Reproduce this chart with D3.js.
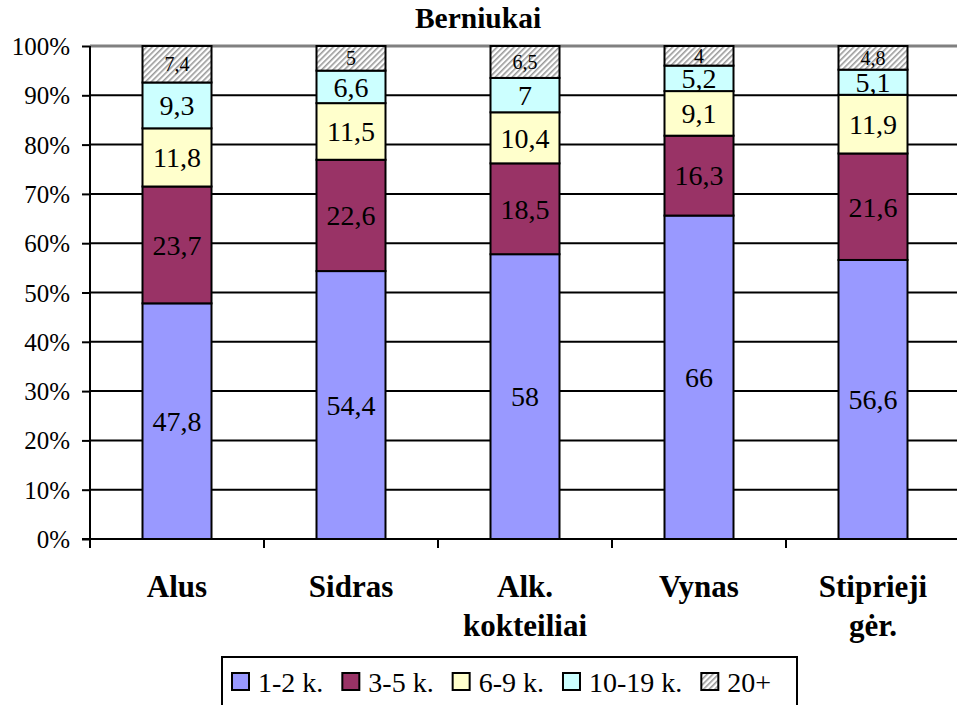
<!DOCTYPE html>
<html><head><meta charset="utf-8">
<script src="https://cdn.jsdelivr.net/npm/d3@7"></script>
<style>html,body{margin:0;padding:0;background:#fff;overflow:hidden;}</style>
</head>
<body><svg id="c" width="957" height="705"></svg>
<script>
const title = "Berniukai";
const categories = [["Alus"], ["Sidras"], ["Alk.", "kokteiliai"], ["Vynas"], ["Stiprieji", "gėr."]];
const seriesNames = ["1-2 k.", "3-5 k.", "6-9 k.", "10-19 k.", "20+"];
const s1 = [47.8, 54.4, 58, 66, 56.6];
const s2 = [23.7, 22.6, 18.5, 16.3, 21.6];
const s3 = [11.8, 11.5, 10.4, 9.1, 11.9];
const s4 = [9.3, 6.6, 7, 5.2, 5.1];
const s5 = [7.4, 5, 6.5, 4, 4.8];
const yTicks = [0, 0.1, 0.2, 0.3, 0.4, 0.5, 0.6, 0.7, 0.8, 0.9, 1];
const colors = ["#9999FF", "#993366", "#FFFFCC", "#CCFFFF", "url(#hatch)"];

const FONT = '"Liberation Serif", "Times New Roman", Times, serif';
const series = [s1, s2, s3, s4, s5];
const svg = d3.select("#c").style("font-family", FONT);
const defs = svg.append("defs");
const pat = defs.append("pattern").attr("id", "hatch").attr("patternUnits", "userSpaceOnUse")
  .attr("width", 4).attr("height", 4).attr("patternTransform", "rotate(45)");
pat.append("rect").attr("width", 4).attr("height", 4).attr("fill", "#fff");
pat.append("rect").attr("x", 0).attr("width", 1.6).attr("height", 4).attr("fill", "#9a9a9a");

const x0 = 90, xEnd = 960, yTop = 46, yBot = 539;
const x = d3.scaleBand().domain(d3.range(categories.length)).range([x0, xEnd]).paddingInner(0).paddingOuter(0);
const y = d3.scaleLinear().domain([0, 1]).range([yBot, yTop]);
const barW = 69;

// gridlines
svg.append("g").selectAll("line").data(yTicks.filter(d => d > 0)).join("line")
  .attr("x1", x0).attr("x2", xEnd).attr("y1", d => y(d)).attr("y2", d => y(d))
  .attr("stroke", d => d === 1 ? "#808080" : "#000").attr("stroke-width", d => d === 1 ? 3 : 2);

// stacked data normalized to 100%
const data = categories.map((c, i) => {
  const vals = series.map(s => s[i]);
  const tot = d3.sum(vals);
  let acc = 0;
  return vals.map((v, j) => { const seg = {i, j, v, y0: acc / tot, y1: (acc + v) / tot}; acc += v; return seg; });
}).flat();

const bars = svg.append("g");
bars.selectAll("rect").data(data).join("rect")
  .attr("x", d => x(d.i) + x.bandwidth() / 2 - barW / 2)
  .attr("width", barW)
  .attr("y", d => y(d.y1))
  .attr("height", d => y(d.y0) - y(d.y1))
  .attr("fill", d => colors[d.j])
  .attr("stroke", "#000").attr("stroke-width", 2);

bars.selectAll("text").data(data).join("text")
  .attr("x", d => x(d.i) + x.bandwidth() / 2)
  .attr("y", d => (y(d.y0) + y(d.y1)) / 2)
  .attr("dy", "0.35em")
  .attr("text-anchor", "middle")
  .style("font-family", FONT)
  .style("font-size", d => (d.j === 4 ? 20 : 28) + "px")
  .attr("fill", "#000")
  .text(d => String(d.v).replace(".", ","));

// y axis
const yAxis = d3.axisLeft(y).tickValues(yTicks).tickFormat(d3.format(".0%")).tickSize(8).tickPadding(12);
const gy = svg.append("g").attr("transform", `translate(${x0},0)`).call(yAxis);
gy.select(".domain").attr("stroke", "#000").attr("stroke-width", 2).attr("d", `M0,${yTop}V${yBot}`);
gy.selectAll(".tick line").attr("stroke", "#000").attr("stroke-width", 2);
gy.selectAll(".tick text").style("font-size", "25px").style("font-family", FONT).attr("fill", "#000").attr("dy", "0.34em");

// x axis
const gx = svg.append("g").attr("transform", `translate(0,${yBot})`);
gx.append("line").attr("x1", x0 - 8).attr("x2", xEnd).attr("y1", 0).attr("y2", 0).attr("stroke", "#000").attr("stroke-width", 2);
gx.selectAll(".tk").data(d3.range(categories.length + 1)).join("line").attr("class", "tk")
  .attr("x1", d => x0 + d * x.step()).attr("x2", d => x0 + d * x.step())
  .attr("y1", 0).attr("y2", 9).attr("stroke", "#000").attr("stroke-width", 2);
const cl = gx.selectAll(".cl").data(categories).join("text").attr("class", "cl")
  .attr("x", (d, i) => x(i) + x.bandwidth() / 2)
  .attr("y", 58).attr("text-anchor", "middle")
  .style("font-family", FONT).style("font-size", "31px").style("font-weight", "bold");
cl.selectAll("tspan").data(d => d).join("tspan")
  .attr("x", function() { return this.parentNode.getAttribute("x"); })
  .attr("dy", (d, k) => k === 0 ? 0 : 39).text(d => d);

// title
svg.append("text").attr("x", 478).attr("y", 28).attr("text-anchor", "middle")
  .style("font-family", FONT).style("font-size", "29.5px").style("font-weight", "bold").text(title);

// legend
const lg = svg.append("g");
lg.append("rect").attr("x", 222).attr("y", 657).attr("width", 575).attr("height", 60)
  .attr("fill", "#fff").attr("stroke", "#000").attr("stroke-width", 2);
let lx = 232;
seriesNames.forEach((n, j) => {
  lg.append("rect").attr("x", lx).attr("y", 673).attr("width", 17).attr("height", 17)
    .attr("fill", colors[j]).attr("stroke", "#000").attr("stroke-width", 2);
  const t = lg.append("text").attr("x", lx + 26).attr("y", 692)
    .style("font-family", FONT).style("font-size", "28px").text(n);
  lx += 26 + t.node().getComputedTextLength() + 19;
});
</script></body></html>
